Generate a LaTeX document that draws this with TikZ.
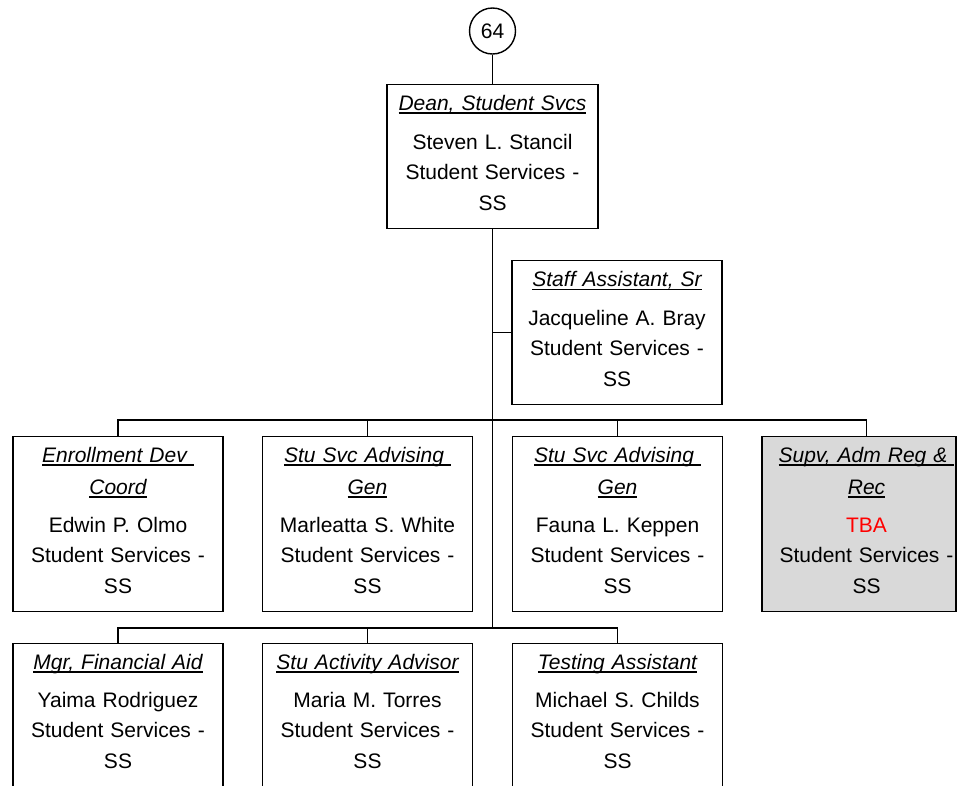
\documentclass[tikz,border=0pt]{standalone}
\usepackage{fontspec}
\setmainfont{Liberation Sans}
\definecolor{boxgray}{RGB}{217,217,217}
\definecolor{tbared}{RGB}{255,0,0}
\newsavebox\ttlbox
\newcommand\ttl[1]{\leavevmode\sbox\ttlbox{\itshape #1}\rlap{\rule[-3.6pt]{\wd\ttlbox}{1.3pt}}\usebox\ttlbox}
\begin{document}
\begin{tikzpicture}[x=1pt,y=-1pt,
  box/.style={draw=black, line width=1.4pt, inner sep=0pt, anchor=north, minimum width=210pt, minimum height=175pt},
  txt/.style={text width=210pt, align=center, inner sep=0pt, anchor=base, font=\fontsize{21}{30.5}\selectfont},
  conn/.style={draw=black, line width=1.4pt}]
\path[use as bounding box, clip] (0,0) rectangle (957,785);
\fill[white] (0,0) rectangle (957,785);
% top circle
\node[draw=black, line width=1.4pt, circle, minimum size=46pt, inner sep=0pt, font=\fontsize{21}{25}\selectfont] (c64) at (492.5,31) {64};
% boxes
\node[box, minimum width=211pt, minimum height=144pt] (dean) at (492.5,84) {};
\node[box, minimum height=144pt] (staff) at (617,260) {};
\node[box] (r1a) at (118,436) {};
\node[box] (r1b) at (367.5,436) {};
\node[box] (r1c) at (617.5,436) {};
\node[box, fill=boxgray, minimum width=194pt] (r1d) at (859,436) {};
\node[box] (r2a) at (118,643) {};
\node[box] (r2b) at (367.5,643) {};
\node[box] (r2c) at (617.5,643) {};
% texts
\node[txt] (deanT) at (492.5,110) {\ttl{Dean, Student Svcs}\\[8.5pt]Steven L. Stancil\\Student Services -\\SS};
\node[txt] (staffT) at (617,286.5) {\ttl{Staff Assistant, Sr}\\[8pt]Jacqueline A. Bray\\Student Services -\\SS};
\node[txt] (r1aT) at (118,462) {\ttl{Enrollment Dev\ }\\[1.5pt]\ttl{Coord}\\[7.5pt]Edwin P. Olmo\\Student Services -\\SS};
\node[txt] (r1bT) at (367.5,462) {\ttl{Stu Svc Advising\ }\\[1.5pt]\ttl{Gen}\\[7.5pt]Marleatta S. White\\Student Services -\\SS};
\node[txt] (r1cT) at (617.5,462) {\ttl{Stu Svc Advising\ }\\[1.5pt]\ttl{Gen}\\[7.5pt]Fauna L. Keppen\\Student Services -\\SS};
\node[txt] (r1dT) at (866.5,462) {\ttl{Supv, Adm Reg \&\ }\\[1.5pt]\ttl{Rec}\\[7.5pt]\textcolor{tbared}{TBA}\\Student Services -\\SS};
\node[txt] (r2aT) at (118,669) {\ttl{Mgr, Financial Aid}\\[7.5pt]Yaima Rodriguez\\Student Services -\\SS};
\node[txt] (r2bT) at (367.5,669) {\ttl{Stu Activity Advisor}\\[7.5pt]Maria M. Torres\\Student Services -\\SS};
\node[txt] (r2cT) at (617.5,669) {\ttl{Testing Assistant}\\[7.5pt]Michael S. Childs\\Student Services -\\SS};
% connectors
\coordinate (bus1) at (492.5,420);
\coordinate (bus2) at (492.5,628);
\coordinate (r1dtop) at (866.5,436);
\draw[conn] (c64) -- (dean);
\draw[conn] (dean.south) -- (bus2);
\draw[conn] (staff.west) -- (staff.west -| dean.south);
\draw[conn] (r1a.north) |- (bus1) -| (r1dtop);
\draw[conn] (r1b.north) -- (r1b.north |- bus1);
\draw[conn] (r1c.north) -- (r1c.north |- bus1);
\draw[conn] (r2a.north) |- (bus2) -| (r2c.north);
\draw[conn] (r2b.north) -- (r2b.north |- bus2);
\end{tikzpicture}
\end{document}
